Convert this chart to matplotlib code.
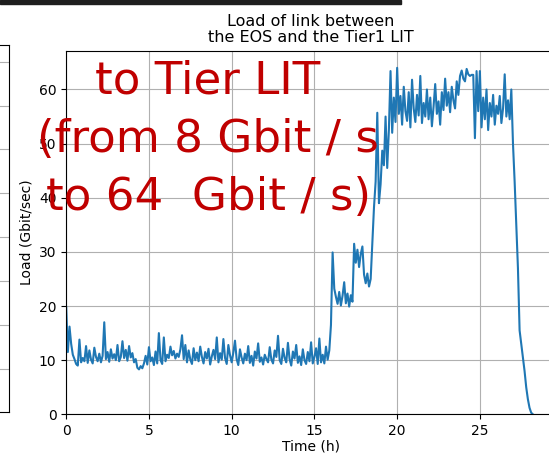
import matplotlib.pyplot as plt
import numpy as np
from matplotlib.patches import Rectangle

# load samples every 0.1 h
time_step = 0.1
load = [
    19.8, 11.5, 16.2, 13.0, 11.0, 10.2, 9.3, 9.0, 13.8, 9.6,
    10.4, 9.8, 12.6, 9.5, 11.8, 10.1, 9.4, 12.3, 10.6, 9.8,
    11.2, 9.6, 10.8, 17.0, 10.2, 11.5, 9.7, 12.0, 10.3, 11.1,
    10.0, 12.8, 9.8, 10.6, 13.5, 10.4, 11.9, 9.9, 12.6, 10.5,
    11.3, 9.6, 10.2, 8.6, 8.3, 8.9, 8.5, 9.4, 10.8, 9.2,
    12.4, 9.8, 10.5, 9.1, 11.6, 9.4, 15.0, 10.0, 9.3, 14.2,
    9.8, 11.0, 10.4, 12.5, 10.9, 11.7, 10.3, 11.2, 10.6, 12.0,
    14.6, 10.2, 12.8, 9.6, 11.8, 10.1, 9.3, 12.2, 10.0, 11.4,
    9.8, 12.5, 10.6, 9.4, 11.5, 10.3, 12.1, 9.2, 10.7, 11.9,
    10.2, 14.2, 9.6, 11.3, 10.1, 13.9, 10.4, 9.3, 12.8, 10.9,
    9.6, 11.4, 13.6, 10.2, 9.1, 12.0, 10.5, 9.4, 11.2, 10.0,
    12.6, 9.5, 10.8, 9.0, 11.6, 10.3, 13.1, 9.7, 10.5, 9.2,
    11.0, 10.2, 9.6, 12.4, 10.1, 9.4, 11.8, 10.6, 14.5, 10.0,
    9.3, 12.1, 10.4, 9.6, 13.2, 10.2, 9.0, 11.6, 10.3, 12.8,
    9.5, 10.7, 9.1, 12.0, 10.0, 9.3, 11.5, 9.8, 13.3, 9.4,
    10.6, 12.2, 9.3, 14.0, 9.6, 11.0, 9.4, 12.5, 10.1, 11.8,
    16.5, 29.9, 23.2, 21.7, 20.4, 22.6, 20.1, 21.9, 24.4, 20.5,
    22.3, 19.9, 22.0, 20.8, 31.5, 28.0, 30.4, 27.2, 29.6, 31.0,
    25.8, 24.2, 26.0, 23.6, 25.0, 31.5, 38.2, 43.0, 55.7, 39.0,
    42.5, 48.7, 46.0, 55.0, 45.5, 52.5, 63.4, 52.0, 58.5, 54.0,
    64.0, 55.5, 58.8, 53.5, 60.5, 56.0, 54.2, 59.5, 53.0, 61.8,
    56.5, 54.0, 59.0, 55.2, 62.5, 53.8, 57.5, 55.0, 60.0, 54.5,
    58.5, 53.2, 56.8, 61.0, 55.5, 57.8, 53.5, 59.5, 56.2, 62.0,
    57.0, 59.5, 55.8, 60.5, 58.0, 56.5, 61.5, 59.0, 62.5, 63.5,
    62.0, 61.5, 63.8, 62.8, 62.5, 62.7, 62.7, 51.0, 63.4, 56.0,
    63.4, 53.0, 58.5, 54.5, 60.0, 52.5, 57.5, 55.0, 59.0, 53.5,
    57.0, 55.5, 58.8, 53.8, 56.5, 62.8, 55.0, 58.0, 54.5, 60.0,
    50.0, 43.0, 35.0, 27.0, 15.5, 13.0, 10.5, 8.0, 5.0, 2.8,
    1.2, 0.3, 0.0,
]
hours = np.arange(len(load)) * time_step

x_ticks = [0, 5, 10, 15, 20, 25]
y_ticks = [0, 10, 20, 30, 40, 50, 60]

W, H = 549, 455
fig = plt.figure(figsize=(W / 100, H / 100), dpi=100)

# neighbouring chart, cut off at the left edge
ax0 = fig.add_axes([-0.3, 1 - 411.7 / H, 0.3 + 9.3 / W, (411.7 - 45) / H])
ax0.set_ylim(0.027, 8.38)
ax0.set_yticks(range(1, 9))
ax0.set_xticks([])
ax0.tick_params(labelleft=False, length=0)
ax0.grid(True, axis="y")

ax = fig.add_axes([66.2 / W, 1 - 414.3 / H, (556 - 66.2) / W, (414.3 - 50.5) / H])
ax.plot(hours, load, color="#1f77b4", linewidth=1.5)
ax.set_xlim(0, 29.6)
ax.set_ylim(0, 67.2)
ax.set_xticks(x_ticks)
ax.set_yticks(y_ticks)
ax.grid(True)
ax.set_xlabel("Time (h)", labelpad=1)
ax.set_ylabel("Load (Gbit/sec)")
ax.set_title("Load of link between\nthe EOS and the Tier1 LIT", fontsize=11.5, linespacing=1.1)

# slide overlay
fig.patches.append(Rectangle((0, 1 - 3.5 / H), 401 / W, 3.5 / H, transform=fig.transFigure,
                             color="#1e1e1e", zorder=10))
fig.text(208 / W, 1 - 139 / H, "to Tier LIT\n(from 8 Gbit / s\nto 64  Gbit / s)",
         color="#c00000", fontsize=32.5, ha="center", va="center",
         multialignment="center", linespacing=1.45, zorder=11)

fig.savefig("out.png", dpi=100)
